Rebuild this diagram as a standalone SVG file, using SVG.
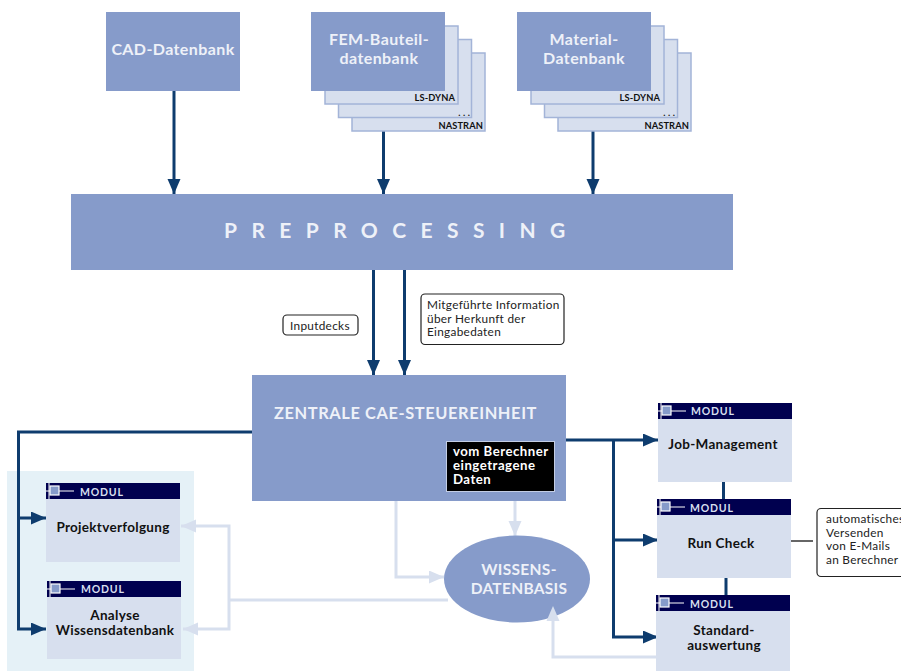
<svg xmlns="http://www.w3.org/2000/svg" width="901" height="671" viewBox="0 0 901 671">
<style>
text{font-family:Lato,"Open Sans","DejaVu Sans",sans-serif}
.main{fill:#869bca}
.sheet{fill:#d7dfee;stroke:#a3b4d8;stroke-width:1.5}
.mod{fill:#d7dfee}
.bar{fill:#00004f}
.w{fill:#eef1f8;font-weight:700;font-size:16px;text-anchor:middle;letter-spacing:.4px}
.c{font-size:15.500px;letter-spacing:.3px}
.z{font-size:16.400px;letter-spacing:.6px}
.k{fill:#111;font-weight:700;font-size:13.500px;text-anchor:middle;letter-spacing:.3px}
.s{fill:#111;font-weight:700;font-size:9.300px;text-anchor:end;letter-spacing:.1px}
.m{fill:#d7dfee;font-weight:700;font-size:10.500px;letter-spacing:.8px}
.n{fill:#222;font-size:11.800px;letter-spacing:.3px}
.note{fill:#fff;stroke:#222;stroke-width:1.2}
.d{fill:none;stroke:#0e3c6e;stroke-width:3}
.l{fill:none;stroke:#d7dfee;stroke-width:3}
.t{stroke:#fff;stroke-width:1}
.ic{fill:#869bca;stroke:#fff;stroke-width:1.2}
.b{fill:#fff;font-weight:700;font-size:13.200px;letter-spacing:.5px}
</style>
<defs>
<marker id="da" markerUnits="userSpaceOnUse" markerWidth="16" markerHeight="14" refX="15" refY="6.500" orient="auto"><path d="M0 0L15 6.500L0 13Z" fill="#0e3c6e"/></marker>
<marker id="la" markerUnits="userSpaceOnUse" markerWidth="16" markerHeight="14" refX="15" refY="6.500" orient="auto"><path d="M0 0L15 6.500L0 13Z" fill="#d7dfee"/></marker>
<g id="modbar"><rect class="bar" width="134" height="16"/><path class="t" d="M3 0V16M0 8H5"/><rect class="ic" x="4" y="3" width="9" height="9"/><path class="t" d="M13 8H28"/></g>
</defs>
<rect id="zone" x="7" y="471" width="187" height="200" fill="#e5f1f7"/>
<g id="connectors">
<path class="l" d="M396 501V577H444" marker-end="url(#la)"/>
<path class="l" d="M515 494V536" marker-end="url(#la)"/>
<path class="l" d="M448 600H230"/>
<path class="l" d="M229 600V526H181" marker-end="url(#la)"/>
<path class="l" d="M229 600V629H183" marker-end="url(#la)"/>
<path class="l" d="M657 657H553V620"/>
<path class="d" d="M174 91V194" marker-end="url(#da)"/>
<path class="d" d="M383.500 131V194" marker-end="url(#da)"/>
<path class="d" d="M593 131V194" marker-end="url(#da)"/>
<path class="d" d="M373.500 270V375" marker-end="url(#da)"/>
<path class="d" d="M404.500 270V375" marker-end="url(#da)"/>
<path class="d" d="M252 432H18.500V518H46" marker-end="url(#da)"/>
<path class="d" d="M18.500 518V629H46" marker-end="url(#da)"/>
<path class="d" d="M566 440H658" marker-end="url(#da)"/>
<path class="d" d="M613.500 440V540H658" marker-end="url(#da)"/>
<path class="d" d="M613.500 540V637H658" marker-end="url(#da)"/>
<path class="d" d="M723.500 481V499"/>
<path class="d" d="M726 578V595"/>
<path d="M790 541H813" fill="none" stroke="#333" stroke-width="1.5"/>
</g>
<g id="cad"><rect class="main" x="106" y="12" width="134" height="79"/><text class="w" x="173" y="55">CAD-Datenbank</text></g>
<g id="fem">
<rect class="sheet" x="352" y="53" width="133" height="78"/><rect class="sheet" x="338.500" y="39.500" width="133" height="78"/><rect class="sheet" x="325" y="26" width="133" height="78"/>
<rect class="main" x="311" y="12" width="134" height="79"/>
<text class="w" x="379" y="45">FEM-Bauteil-</text><text class="w" x="379" y="64">datenbank</text>
<text class="s" x="455" y="101">LS-DYNA</text><text class="s" x="470" y="116">. . .</text><text class="s" x="483" y="129">NASTRAN</text>
</g>
<g id="material">
<rect class="sheet" x="558" y="53" width="133" height="78"/><rect class="sheet" x="544.500" y="39.500" width="133" height="78"/><rect class="sheet" x="531" y="26" width="133" height="78"/>
<rect class="main" x="517" y="12" width="134" height="79"/>
<text class="w" x="584" y="45">Material-</text><text class="w" x="584" y="64">Datenbank</text>
<text class="s" x="660" y="101">LS-DYNA</text><text class="s" x="675" y="116">. . .</text><text class="s" x="689" y="129">NASTRAN</text>
</g>
<g id="preprocessing"><rect class="main" x="71" y="194" width="662" height="76"/><text x="224" y="238" fill="#eef1f8" font-weight="700" font-size="21" style="letter-spacing:14.400px">PREPROCESSING</text></g>
<g id="inputdecks"><rect class="note" x="283" y="315" width="75" height="20" rx="4"/><text class="n" x="290" y="330">Inputdecks</text></g>
<g id="info"><rect class="note" x="421" y="294" width="143" height="50.500" rx="4"/><text class="n" x="427" y="309">Mitgeführte Information</text><text class="n" x="427" y="323">über Herkunft der</text><text class="n" x="427" y="336">Eingabedaten</text></g>
<g id="zentrale"><rect class="main" x="252" y="375" width="314" height="126"/><text class="w z" x="405.500" y="419">ZENTRALE CAE-STEUEREINHEIT</text>
<rect x="446.500" y="441.500" width="108" height="50" fill="#000" stroke="#c3cde4"/>
<text class="b" x="453" y="456">vom Berechner</text><text class="b" x="453" y="470">eingetragene</text><text class="b" x="453" y="484">Daten</text></g>
<g id="wissen"><ellipse class="main" cx="517" cy="579" rx="73" ry="43.500"/><text class="w c" x="519" y="575">WISSENS-</text><text class="w c" x="519" y="594">DATENBASIS</text></g>
<path d="M553 606L546.500 621H559.500Z" fill="#d7dfee"/>
<g id="job"><rect class="mod" x="658" y="403" width="134" height="79"/><use href="#modbar" x="658" y="403"/><text class="m" x="691" y="415">MODUL</text><text class="k" x="723" y="449">Job-Management</text></g>
<g id="run"><rect class="mod" x="657" y="499" width="134" height="79"/><use href="#modbar" x="657" y="499"/><text class="m" x="690" y="512">MODUL</text><text class="k" x="721" y="548">Run Check</text></g>
<g id="standard"><rect class="mod" x="656" y="595" width="134" height="76"/><use href="#modbar" x="656" y="595"/><text class="m" x="690" y="608">MODUL</text><text class="k" x="724" y="635">Standard-</text><text class="k" x="724" y="650">auswertung</text></g>
<g id="auto"><rect class="note" x="817" y="508.500" width="95" height="68" rx="4"/><text class="n" x="826" y="523">automatisches</text><text class="n" x="826" y="537">Versenden</text><text class="n" x="826" y="550">von E-Mails</text><text class="n" x="826" y="564">an Berechner</text></g>
<g id="projekt"><rect class="mod" x="46" y="483" width="134" height="79"/><use href="#modbar" x="46" y="483"/><text class="m" x="80" y="496">MODUL</text><text class="k" x="113" y="532">Projektverfolgung</text></g>
<g id="analyse"><rect class="mod" x="47" y="581" width="134" height="78"/><use href="#modbar" x="47" y="581"/><text class="m" x="81" y="593">MODUL</text><text class="k" x="115" y="620">Analyse</text><text class="k" x="115" y="635">Wissensdatenbank</text></g>
</svg>
